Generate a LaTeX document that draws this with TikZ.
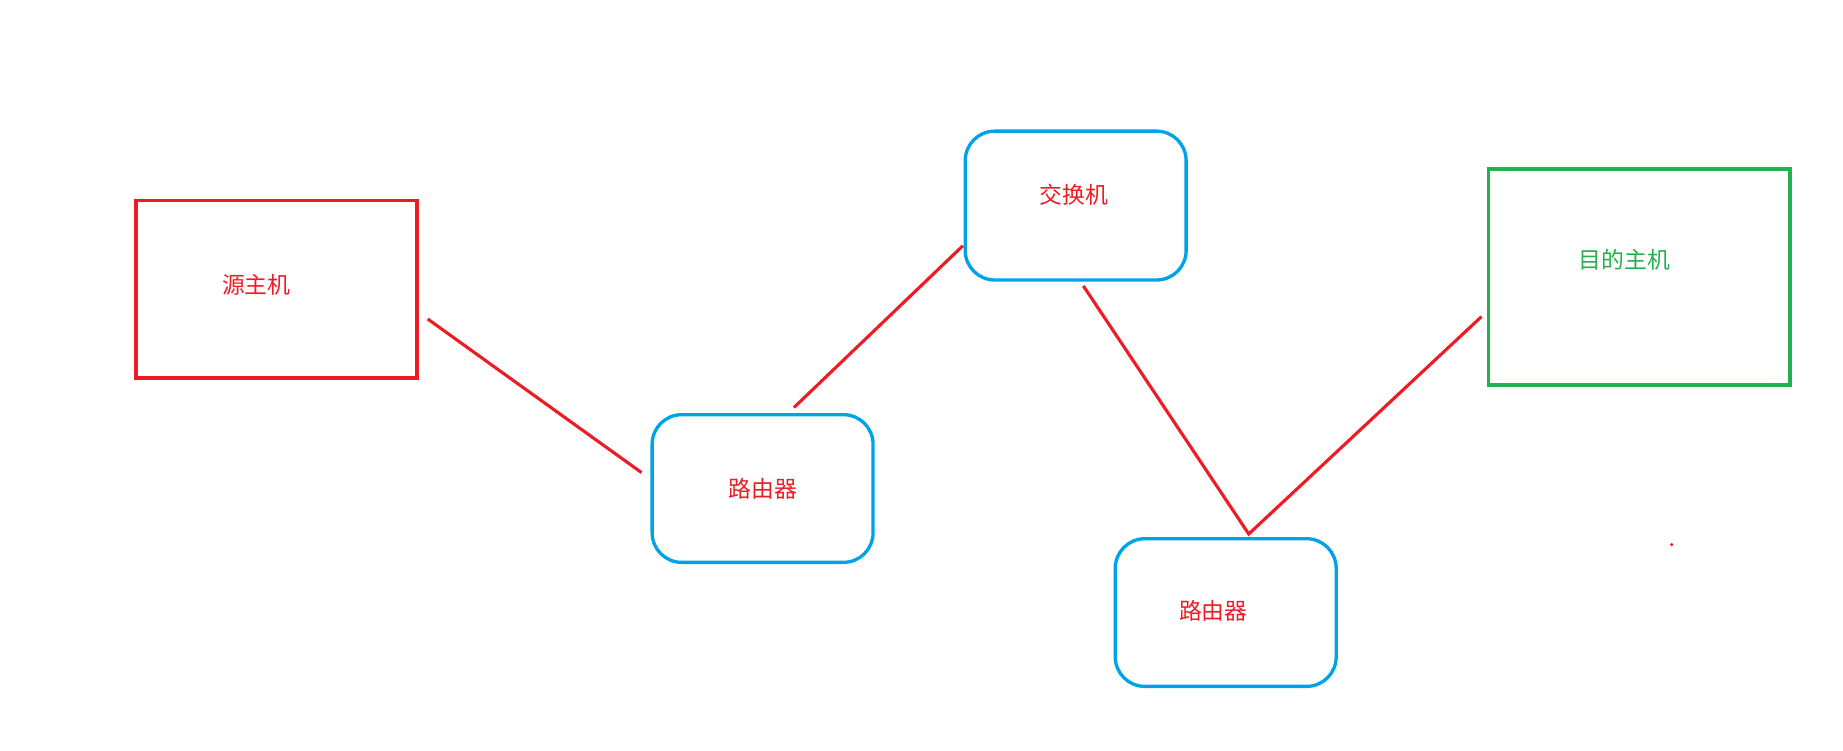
\documentclass[tikz,border=0pt]{standalone}
\usepackage{fontspec}
\newfontfamily\cjk{Noto Sans CJK SC}
\definecolor{pr}{HTML}{ED1C24}
\definecolor{pb}{HTML}{00A2E8}
\definecolor{pg}{HTML}{22B14C}
\begin{document}
\begin{tikzpicture}[x=0.02cm,y=-0.02cm,
  lbl/.style={font=\cjk\fontsize{11}{13}\selectfont,text=pr},
  dev/.style={draw=pb,line width=1.6pt,rounded corners=0.5cm},
  wire/.style={draw=pr,line width=1.5pt}]
\useasboundingbox (0,0) rectangle (1560,635);
\draw[draw=pr,line width=1.6pt] (115,170) rectangle (353,320);
\node[lbl] (src) at (217,241) {源主机};
\draw[dev] (552,351) rectangle (739,476);
\node[lbl] (r1) at (646,414) {路由器};
\draw[dev] (817,111) rectangle (1004,237);
\node[lbl] (sw) at (909,165) {交换机};
\draw[dev] (944,456) rectangle (1131,581);
\node[lbl] (r2) at (1027,517) {路由器};
\draw[draw=pg,line width=1.6pt] (1260,143) rectangle (1515,326);
\node[lbl,text=pg] (dst) at (1375,220) {目的主机};
\coordinate (a1) at (362,270); \coordinate (a2) at (543,400);
\coordinate (b1) at (672,345); \coordinate (b2) at (815,208);
\coordinate (c1) at (917,242); \coordinate (c2) at (1057,452);
\coordinate (d1) at (1254,268);
\draw[wire] (a1) -- (a2);
\draw[wire] (b1) -- (b2);
\draw[wire] (c1) -- (c2) -- (d1);
\fill[pr] (1415,461) circle (1.5);
\end{tikzpicture}
\end{document}
